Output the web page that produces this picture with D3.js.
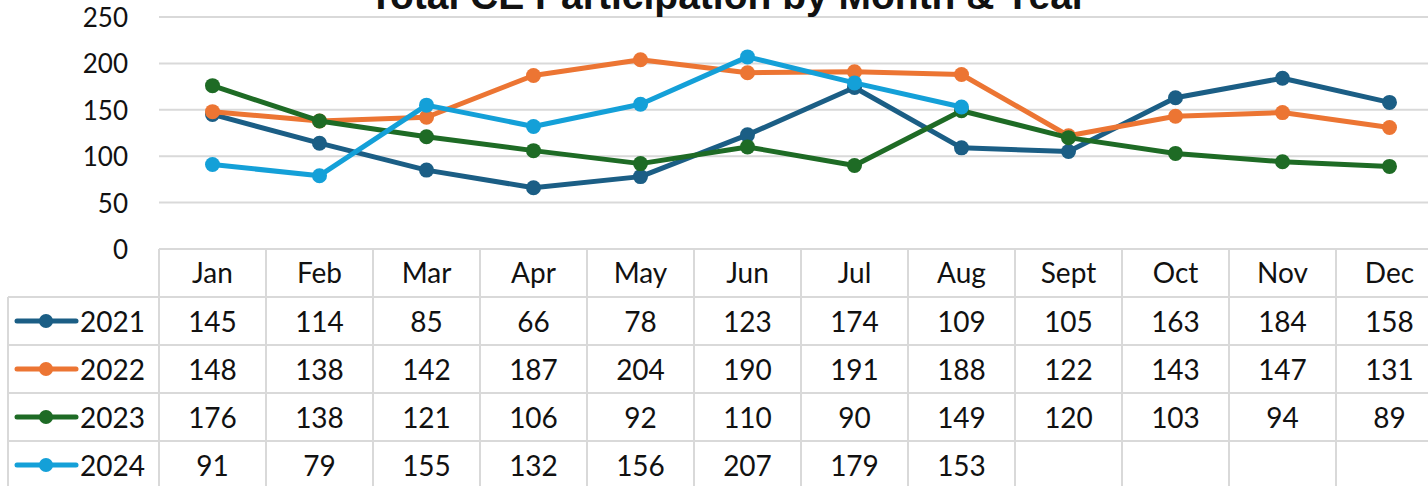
<!DOCTYPE html>
<html>
<head>
<meta charset="utf-8">
<script src="https://cdn.jsdelivr.net/npm/d3@7"></script>
<style>
  body { margin: 0; background: #fff; }
  svg text { font-family: "Lato", "Noto Sans", sans-serif; fill: #111; }
</style>
</head>
<body>
<script>
// chart data
var months = ["Jan", "Feb", "Mar", "Apr", "May", "Jun", "Jul", "Aug", "Sept", "Oct", "Nov", "Dec"];
var years = ["2021", "2022", "2023", "2024"];
var v2021 = [145, 114, 85, 66, 78, 123, 174, 109, 105, 163, 184, 158];
var v2022 = [148, 138, 142, 187, 204, 190, 191, 188, 122, 143, 147, 131];
var v2023 = [176, 138, 121, 106, 92, 110, 90, 149, 120, 103, 94, 89];
var v2024 = [91, 79, 155, 132, 156, 207, 179, 153];
var yTicks = [0, 50, 100, 150, 200, 250];
var colors = ["#1b5e85", "#ec7533", "#1e6b25", "#14a0d8"];

var series = [v2021, v2022, v2023, v2024];

var width = 1428, height = 486;
var svg = d3.select("body").append("svg")
  .attr("width", width)
  .attr("height", height);

var left = 159, colW = 107;
var x = d3.scaleBand()
  .domain(months)
  .range([left, left + colW * months.length]);
var y = d3.scaleLinear()
  .domain([0, 250])
  .range([249, 17]);

// gridlines
svg.append("g")
  .selectAll("line")
  .data(yTicks)
  .enter().append("line")
  .attr("x1", left).attr("x2", width)
  .attr("y1", d => y(d)).attr("y2", d => y(d))
  .attr("stroke", "#d9d9d9")
  .attr("stroke-width", 2);

// y axis labels
svg.append("g")
  .selectAll("text")
  .data(yTicks)
  .enter().append("text")
  .attr("x", 128)
  .attr("y", d => y(d) + 10)
  .attr("text-anchor", "end")
  .style("font-size", "26px")
  .text(d => d);

// title (cut off at the top, as in the original)
svg.append("text")
  .attr("x", 728)
  .attr("y", 9)
  .attr("text-anchor", "middle")
  .style("font-family", "'Liberation Sans', Arial, sans-serif")
  .style("font-weight", "bold")
  .style("font-size", "39px")
  .text("Total CE Participation by Month & Year");

// data table
var rowTop = 249, headH = 48, rowH = 48;
var tbl = svg.append("g").attr("stroke", "#d9d9d9").attr("stroke-width", 2);
[0, 1, 2, 3, 4].forEach(function (i) {
  var yy = rowTop + headH + i * rowH;
  tbl.append("line").attr("x1", 8).attr("x2", width).attr("y1", yy).attr("y2", yy);
});
x.domain().forEach(function (m) {
  tbl.append("line").attr("x1", x(m)).attr("x2", x(m)).attr("y1", rowTop).attr("y2", height);
});
tbl.append("line").attr("x1", 8).attr("x2", 8).attr("y1", rowTop + headH).attr("y2", height);

// month headers
svg.append("g")
  .selectAll("text")
  .data(months)
  .enter().append("text")
  .attr("x", d => x(d) + x.bandwidth() / 2)
  .attr("y", rowTop + 34)
  .attr("text-anchor", "middle")
  .style("font-size", "28px")
  .text(d => d);

// table rows with legend keys
series.forEach(function (vals, si) {
  var top = rowTop + headH + si * rowH;
  var cy = top + rowH / 2;
  var g = svg.append("g");
  g.selectAll("text")
    .data(vals)
    .enter().append("text")
    .attr("x", (d, i) => x(months[i]) + x.bandwidth() / 2)
    .attr("y", top + 35)
    .attr("text-anchor", "middle")
    .style("font-size", "28px")
    .text(d => d);
  g.append("line")
    .attr("x1", 17).attr("x2", 76)
    .attr("y1", cy).attr("y2", cy)
    .attr("stroke", colors[si])
    .attr("stroke-width", 5)
    .attr("stroke-linecap", "round");
  g.append("circle")
    .attr("cx", 46).attr("cy", cy).attr("r", 7)
    .attr("fill", colors[si]);
  g.append("text")
    .attr("x", 80)
    .attr("y", top + 35)
    .style("font-size", "28px")
    .text(years[si]);
});

// lines and markers
var line = d3.line()
  .x((d, i) => x(months[i]) + x.bandwidth() / 2)
  .y(d => y(d));

series.forEach(function (vals, si) {
  var g = svg.append("g");
  g.append("path")
    .datum(vals)
    .attr("d", line)
    .attr("fill", "none")
    .attr("stroke", colors[si])
    .attr("stroke-width", 5)
    .attr("stroke-linejoin", "round");
  g.selectAll("circle")
    .data(vals)
    .enter().append("circle")
    .attr("cx", (d, i) => x(months[i]) + x.bandwidth() / 2)
    .attr("cy", d => y(d))
    .attr("r", 7.5)
    .attr("fill", colors[si]);
});
</script>
</body>
</html>
